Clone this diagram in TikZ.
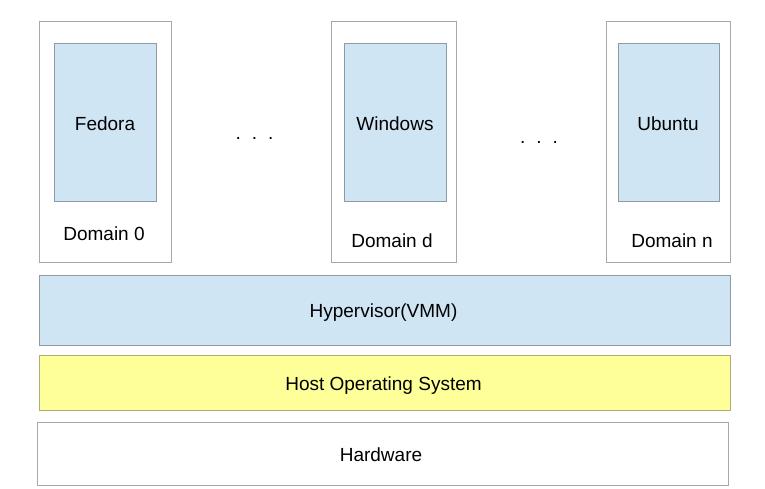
\documentclass[tikz,border=0pt]{standalone}
\usepackage{fontspec}
\setmainfont{Liberation Sans}
\definecolor{osblue}{HTML}{CFE5F3}
\definecolor{osyellow}{HTML}{FFFF99}
\definecolor{outerline}{HTML}{A8A8A8}
\definecolor{blueline}{HTML}{8E9AA4}
\definecolor{yellowline}{HTML}{AEAE78}
\begin{document}
\begin{tikzpicture}[x=1pt,y=-1pt,
  every node/.style={font=\fontsize{19}{23}\selectfont, inner sep=0pt},
  domainbox/.style={draw=outerline, line width=1pt, fill=white},
  guestbox/.style={draw=blueline, line width=1pt, fill=osblue},
  layerblue/.style={draw=blueline, line width=1pt, fill=osblue},
  layeryellow/.style={draw=yellowline, line width=1pt, fill=osyellow},
  layerwhite/.style={draw=outerline, line width=1pt, fill=white},
  lbl/.style={anchor=base}]
\useasboundingbox (0,0) rectangle (765,489);
\fill[white] (0,0) rectangle (765,489);

% domains
\draw[domainbox] (39,22) rectangle (171,262);
\draw[guestbox] (54,44) rectangle (156,201);
\node[lbl] (fedora) at (105,131) {Fedora};
\node[lbl] (dom0) at (104,240) {Domain 0};

\draw[domainbox] (331,22) rectangle (456,262);
\draw[guestbox] (344,44) rectangle (446,201);
\node[lbl] (windows) at (395,131) {Windows};
\node[lbl] (domd) at (392,247) {Domain d};

\draw[domainbox] (606,22) rectangle (730,262);
\draw[guestbox] (618,44) rectangle (719,201);
\node[lbl] (ubuntu) at (668,131) {Ubuntu};
\node[lbl] (domn) at (672,247) {Domain n};

\node[lbl] (dots1) at (254.5,140) {.\hspace{11pt}.\hspace{11pt}.};
\node[lbl] (dots2) at (539,143.5) {.\hspace{11pt}.\hspace{11pt}.};

% layers
\draw[layerblue] (39,275) rectangle (730,345);
\node[lbl] (hyp) at (383.5,317) {Hypervisor(VMM)};
\draw[layeryellow] (39,355) rectangle (730,410);
\node[lbl] (host) at (383.5,390) {Host Operating System};
\draw[layerwhite] (37,422) rectangle (728,485);
\node[lbl] (hw) at (381,461) {Hardware};
\end{tikzpicture}
\end{document}
